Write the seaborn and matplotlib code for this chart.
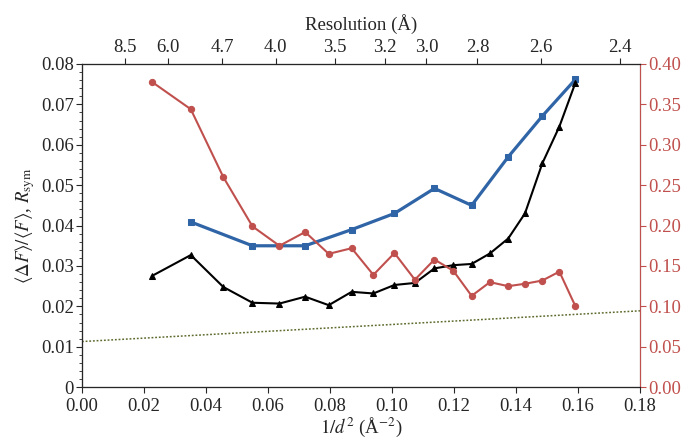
import matplotlib
matplotlib.use("Agg")
import matplotlib.pyplot as plt
import seaborn as sns
import numpy as np
import pandas as pd
from matplotlib.ticker import MultipleLocator, FormatStrFormatter

# ---- data ----
x_bins = [0.0225, 0.0351, 0.0456, 0.0550, 0.0637, 0.0720, 0.0796, 0.0870, 0.0940, 0.1008,
          0.1074, 0.1137, 0.1198, 0.1257, 0.1316, 0.1375, 0.1429, 0.1485, 0.1540, 0.1592]
dF_black = [0.0275, 0.0327, 0.0248, 0.0209, 0.0207, 0.0224, 0.0203, 0.0236, 0.0232, 0.0253,
            0.0258, 0.0294, 0.0302, 0.0305, 0.0331, 0.0368, 0.0430, 0.0554, 0.0645, 0.0754]
rsym_red = [0.378, 0.344, 0.260, 0.199, 0.175, 0.192, 0.165, 0.172, 0.139, 0.166,
            0.133, 0.158, 0.144, 0.113, 0.130, 0.125, 0.128, 0.132, 0.143, 0.100]
x_blue = [0.0351, 0.0550, 0.0720, 0.0870, 0.1008, 0.1137, 0.1257, 0.1375, 0.1485, 0.1592]
dF_blue = [0.0409, 0.0350, 0.0350, 0.0390, 0.0430, 0.0492, 0.0450, 0.0570, 0.0671, 0.0762]
dotted_x = [0.0, 0.18]
dotted_y = [0.0113, 0.0189]
res_labels = ["8.5", "6.0", "4.7", "4.0", "3.5", "3.2", "3.0", "2.8", "2.6", "2.4"]

sns.set_style("ticks")
plt.rcParams['font.family'] = ['Liberation Serif', 'DejaVu Serif']
plt.rcParams['mathtext.fontset'] = 'stix'

RED = '#c0504d'
BLUE = '#2f64a6'
FS = 13.5

fig = plt.figure(figsize=(6.83, 4.41), dpi=100)
ax = fig.add_axes([0.120, 0.122, 0.817, 0.733])

df_black = pd.DataFrame({'x': x_bins, 'y': dF_black})
df_blue = pd.DataFrame({'x': x_blue, 'y': dF_blue})
df_red = pd.DataFrame({'x': x_bins, 'y': rsym_red})
df_dot = pd.DataFrame({'x': dotted_x, 'y': dotted_y})

sns.lineplot(data=df_dot, x='x', y='y', ax=ax, color='#5e6b2e', lw=1.1,
             linestyle=(0, (1.2, 1.2)))
sns.lineplot(data=df_blue, x='x', y='y', ax=ax, color=BLUE, lw=2.3, marker='s',
             markersize=4.5, markeredgecolor=BLUE)
sns.lineplot(data=df_black, x='x', y='y', ax=ax, color='black', lw=1.5, marker='^',
             markersize=4.5, markeredgecolor='black')

ax.set_xlim(0, 0.18)
ax.set_ylim(0, 0.08)
ax.xaxis.set_major_locator(MultipleLocator(0.02))
ax.xaxis.set_major_formatter(FormatStrFormatter('%.2f'))
ax.yaxis.set_major_locator(MultipleLocator(0.01))
ax.yaxis.set_minor_locator(MultipleLocator(0.002))
ax.yaxis.set_major_formatter(matplotlib.ticker.FuncFormatter(
    lambda v, p: '0' if abs(v) < 1e-9 else f'{v:.2f}'))
ax.tick_params(axis='y', labelsize=FS, direction='out', length=4, width=0.8, pad=2)
ax.tick_params(axis='x', labelsize=FS, direction='out', length=4, width=0.8, pad=4)
ax.tick_params(axis='y', which='minor', length=2.5, width=0.6)
ax.set_xlabel(r'$1/d^2$ (Å$^{-2}$)', fontsize=FS, labelpad=0)
ax.set_ylabel(r'$\langle\Delta F\rangle/\langle F\rangle$, $R_{\rm sym}$', fontsize=FS, labelpad=3)
for s in ax.spines.values():
    s.set_linewidth(0.8)
    s.set_color('#444444')

ax2 = ax.twinx()
sns.lineplot(data=df_red, x='x', y='y', ax=ax2, color=RED, lw=1.5, marker='o',
             markersize=4.5, markeredgecolor=RED)
ax2.set_ylim(0, 0.40)
ax2.set_xlim(0, 0.18)
ax2.yaxis.set_major_locator(MultipleLocator(0.05))
ax2.yaxis.set_major_formatter(FormatStrFormatter('%.2f'))
ax2.tick_params(axis='y', colors=RED, labelsize=FS, direction='out', length=4, width=0.8, pad=2)
ax2.spines['right'].set_color(RED)
ax2.spines['right'].set_linewidth(0.8)
ax2.set_ylabel('')
ax2.set_xlabel('')

ax3 = ax.twiny()
ax3.set_xlim(0, 0.18)
ax3.set_xticks([1.0 / float(r) ** 2 for r in res_labels])
ax3.set_xticklabels(res_labels)
ax3.tick_params(axis='x', labelsize=FS, direction='out', length=4, width=0.8, pad=2)
ax3.set_xlabel('Resolution (Å)', fontsize=FS, labelpad=6)
ax3.spines['right'].set_visible(False)

fig.savefig('out.png', dpi=100)
